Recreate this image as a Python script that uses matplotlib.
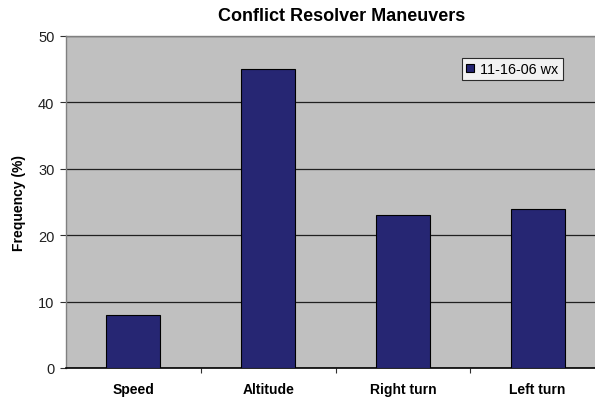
import numpy as np
import matplotlib
matplotlib.use('Agg')
import matplotlib.pyplot as plt

categories = ['Speed', 'Altitude', 'Right turn', 'Left turn']
frequency = [8, 45, 23, 24]
series_name = '11-16-06 wx'

plt.rcParams['font.family'] = ['Liberation Sans', 'DejaVu Sans']

W, H = 595, 402
fig = plt.figure(figsize=(W / 100, H / 100), dpi=100)
# plot area runs a little past the right edge of the figure
ax = fig.add_axes([66 / W, 33 / H, 539 / W, 332 / H])
ax.set_facecolor('#c0c0c0')

x = np.arange(len(categories))
ax.bar(x, frequency, width=0.4, color='#262673', edgecolor='black',
       linewidth=0.8, label=series_name, zorder=3)

ax.set_xlim(-0.5, len(categories) - 0.5)
ax.set_ylim(0, 50)
ax.set_yticks(range(0, 51, 10))
ax.yaxis.grid(True, color='#202020', linewidth=0.9, zorder=1)
ax.set_axisbelow(True)

ax.set_xticks(x)
ax.set_xticklabels(categories, fontsize=10, fontweight='bold')
ax.tick_params(axis='x', which='major', length=0, pad=10)
ax.set_xticks(np.arange(0.5, len(categories) - 0.5, 1), minor=True)
ax.tick_params(axis='x', which='minor', length=3.6, width=0.8, direction='out', color='#303030')
ax.tick_params(axis='y', length=4.3, width=0.8, direction='out', labelsize=10.5, pad=4,
               color='#303030', labelcolor='#202020')

for side in ['top', 'right', 'left']:
    ax.spines[side].set_color('#808080')
    ax.spines[side].set_linewidth(1.0)
ax.spines['bottom'].set_color('black')
ax.spines['bottom'].set_linewidth(1.2)

fig.text(19 / W, 1 - 203 / H, 'Frequency (%)', rotation=90, ha='center', va='center',
         fontsize=10, fontweight='bold')
fig.text(342 / W, 1 - 20.7 / H, 'Conflict Resolver Maneuvers', ha='center',
         va='baseline', fontsize=13, fontweight='bold')

leg = ax.legend(loc='upper left', bbox_to_anchor=(462 / W, 1 - 58.7 / H),
                bbox_transform=fig.transFigure, fontsize=10.4, frameon=True,
                fancybox=False, handlelength=0.55, handleheight=0.55,
                handletextpad=0.42, borderpad=0.3, borderaxespad=0)
leg.get_frame().set_edgecolor('black')
leg.get_frame().set_facecolor('white')
leg.get_frame().set_linewidth(0.8)

fig.savefig('out.png', dpi=100)
